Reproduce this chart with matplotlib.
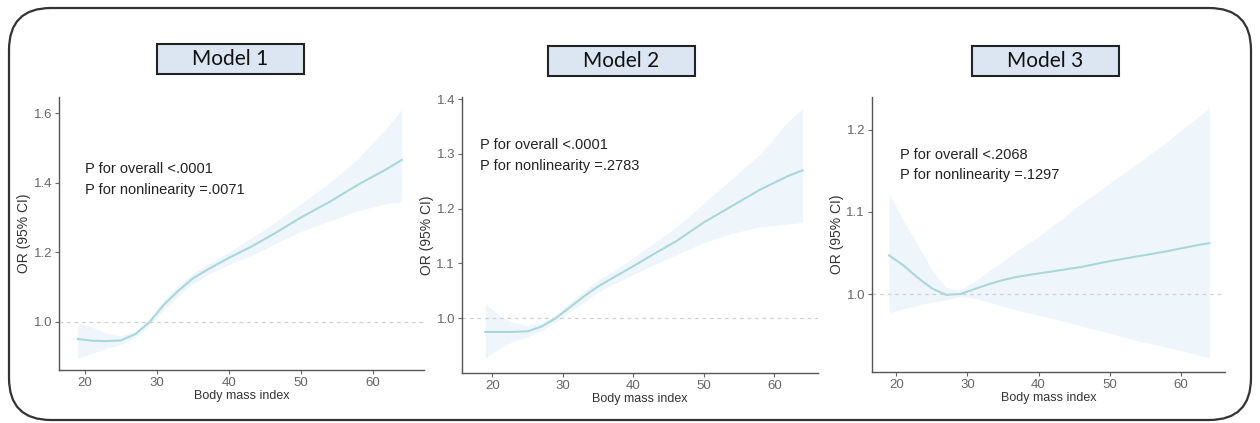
import matplotlib
matplotlib.use("Agg")
import matplotlib.pyplot as plt
import matplotlib.patches as mpatches

plt.rcParams['font.family'] = ['Liberation Sans', 'DejaVu Sans']

# Body mass index grid (shared by all three models)
bmi = [19, 21, 23, 25, 27, 29, 31, 33, 35, 37, 40, 43, 46, 50, 54, 58, 62, 64]

# Model 1
m1_or = [0.951, 0.946, 0.945, 0.947, 0.965, 1.0, 1.05, 1.09, 1.125, 1.15, 1.184, 1.215, 1.25, 1.30, 1.345, 1.395, 1.44, 1.465]
m1_lo = [0.895, 0.91, 0.925, 0.935, 0.955, 0.99, 1.035, 1.075, 1.11, 1.135, 1.165, 1.19, 1.22, 1.26, 1.29, 1.32, 1.34, 1.345]
m1_hi = [1.0, 0.985, 0.968, 0.96, 0.975, 1.01, 1.065, 1.105, 1.14, 1.165, 1.2, 1.24, 1.28, 1.34, 1.40, 1.47, 1.56, 1.61]

# Model 2
m2_or = [0.975, 0.975, 0.975, 0.976, 0.985, 1.0, 1.02, 1.04, 1.058, 1.073, 1.095, 1.118, 1.14, 1.175, 1.205, 1.235, 1.26, 1.27]
m2_lo = [0.927, 0.945, 0.958, 0.966, 0.978, 0.993, 1.012, 1.03, 1.047, 1.061, 1.08, 1.098, 1.115, 1.138, 1.155, 1.167, 1.172, 1.175]
m2_hi = [1.027, 1.005, 0.992, 0.987, 0.992, 1.007, 1.028, 1.05, 1.07, 1.085, 1.11, 1.138, 1.165, 1.21, 1.255, 1.30, 1.36, 1.383]

# Model 3
m3_or = [1.047, 1.035, 1.02, 1.007, 0.999, 1.0, 1.006, 1.012, 1.017, 1.021, 1.025, 1.029, 1.033, 1.040, 1.046, 1.052, 1.059, 1.062]
m3_lo = [0.977, 0.982, 0.986, 0.99, 0.993, 0.997, 0.995, 0.99, 0.985, 0.98, 0.974, 0.968, 0.961, 0.952, 0.943, 0.935, 0.927, 0.922]
m3_hi = [1.123, 1.09, 1.06, 1.03, 1.008, 1.005, 1.015, 1.028, 1.04, 1.053, 1.07, 1.09, 1.11, 1.135, 1.16, 1.185, 1.213, 1.227]

titles = ["Model 1", "Model 2", "Model 3"]
p_overall = ["P for overall <.0001", "P for overall <.0001", "P for overall <.2068"]
p_nonlin = ["P for nonlinearity =.0071", "P for nonlinearity =.2783", "P for nonlinearity =.1297"]
yticks = [[1.0, 1.2, 1.4, 1.6], [1.0, 1.1, 1.2, 1.3, 1.4], [1.0, 1.1, 1.2]]
xticks = [20, 30, 40, 50, 60]

W, H = 1260, 423
fig = plt.figure(figsize=(W / 100, H / 100), dpi=100)

# rounded frame around everything (in inches)
frame = mpatches.FancyBboxPatch((0.09, 0.03), 12.42, 4.12,
                                boxstyle="round,pad=0,rounding_size=0.42",
                                transform=fig.dpi_scale_trans, fill=False,
                                edgecolor="#333333", linewidth=1.6)
fig.patches.append(frame)

# axes boxes in pixels: left, right, top, bottom
boxes = [(59, 424, 97, 370), (462, 818, 97, 373), (872, 1225, 97, 372)]
xlims = [(16.4, 67.1), (15.7, 66.2), (16.6, 66.2)]
ylims = [(0.862, 1.646), (0.9, 1.404), (0.905, 1.24)]
title_boxes = [(157, 304, 44, 74), (548, 695, 46, 76), (972, 1119, 46, 76)]
text_pos = [(0.07, 0.72), (0.05, 0.81), (0.08, 0.775)]

series = [(m1_or, m1_lo, m1_hi), (m2_or, m2_lo, m2_hi), (m3_or, m3_lo, m3_hi)]

for i in range(3):
    l, r, t, b = boxes[i]
    ax = fig.add_axes([l / W, (H - b) / H, (r - l) / W, (b - t) / H])
    est, lo, hi = series[i]
    ax.fill_between(bmi, lo, hi, color="#eef6fb", linewidth=0)
    ax.plot(bmi, est, color="#a9d7dc", linewidth=1.5, solid_joinstyle="round")
    ax.axhline(1.0, color="#d0d0d0", linestyle=(0, (3, 3)), linewidth=0.9)
    ax.set_xlim(*xlims[i])
    ax.set_ylim(*ylims[i])
    ax.set_xticks(xticks)
    ax.set_yticks(yticks[i])
    ax.set_yticklabels([f"{v:.1f}" for v in yticks[i]])
    for s in ["top", "right"]:
        ax.spines[s].set_visible(False)
    for s in ["left", "bottom"]:
        ax.spines[s].set_color("#555555")
        ax.spines[s].set_linewidth(1.0)
    ax.tick_params(colors="#666666", labelsize=9.5, length=3, width=0.8, pad=2)
    ax.set_xlabel("Body mass index", fontsize=9, color="#333333", labelpad=1)
    ax.set_ylabel("OR (95% CI)", fontsize=10, color="#333333", labelpad=2)
    tx, ty = text_pos[i]
    ax.text(tx, ty, p_overall[i], transform=ax.transAxes, fontsize=10.5, color="#222222")
    ax.text(tx, ty - 0.075, p_nonlin[i], transform=ax.transAxes, fontsize=10.5, color="#222222")

    # title box
    x0, x1, y0, y1 = title_boxes[i]
    rect = mpatches.Rectangle((x0 / W, (H - y1) / H), (x1 - x0) / W, (y1 - y0) / H,
                              transform=fig.transFigure, facecolor="#dce6f2",
                              edgecolor="#222222", linewidth=1.5)
    fig.patches.append(rect)
    fig.text((x0 + x1) / 2 / W, (H - (y0 + y1) / 2) / H, titles[i],
             ha="center", va="center", fontsize=15, color="#111111",
             family=["Lato", "DejaVu Sans"])

fig.savefig("out.png", dpi=100)
